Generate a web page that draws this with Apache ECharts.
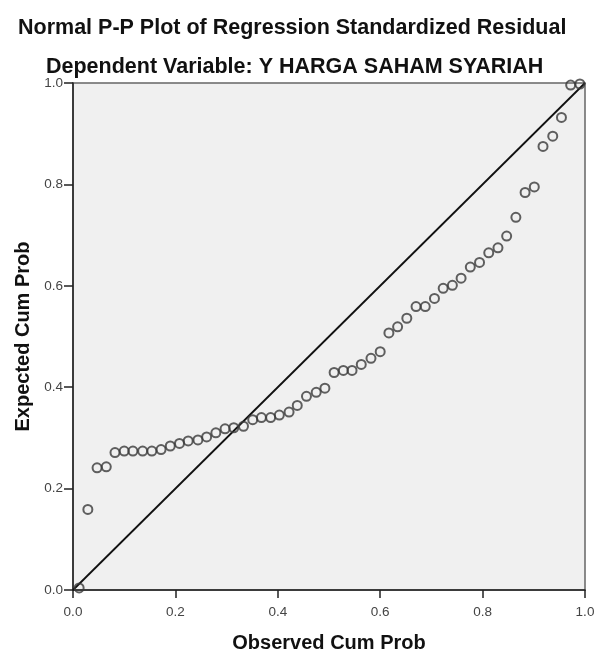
<!DOCTYPE html>
<html>
<head>
<meta charset="utf-8">
<script src="https://cdn.jsdelivr.net/npm/echarts@6/dist/echarts.min.js"></script>
<style>
  html, body { margin: 0; padding: 0; background: #fff; }
  #main { width: 599px; height: 658px; }
</style>
</head>
<body>
<div id="main"></div>
<script>
// observed cum prob (x) and expected cum prob (y)
var observed = [
  0.012, 0.029, 0.047, 0.065, 0.082, 0.100, 0.117, 0.136, 0.154, 0.172,
  0.190, 0.208, 0.225, 0.244, 0.261, 0.279, 0.297, 0.314, 0.333, 0.351,
  0.368, 0.386, 0.403, 0.422, 0.438, 0.456, 0.475, 0.492, 0.510, 0.528,
  0.545, 0.563, 0.582, 0.600, 0.617, 0.634, 0.652, 0.670, 0.688, 0.706,
  0.723, 0.741, 0.758, 0.776, 0.794, 0.812, 0.830, 0.847, 0.865, 0.883,
  0.901, 0.918, 0.937, 0.954, 0.972, 0.990
];
var expected = [
  0.004, 0.159, 0.241, 0.243, 0.271, 0.274, 0.274, 0.274, 0.274, 0.277,
  0.284, 0.289, 0.294, 0.296, 0.302, 0.310, 0.318, 0.320, 0.323, 0.336,
  0.340, 0.340, 0.345, 0.351, 0.364, 0.382, 0.390, 0.398, 0.429, 0.433,
  0.433, 0.445, 0.457, 0.470, 0.507, 0.519, 0.536, 0.559, 0.559, 0.575,
  0.595, 0.601, 0.615, 0.637, 0.646, 0.665, 0.675, 0.698, 0.735, 0.784,
  0.795, 0.875, 0.895, 0.932, 0.996, 0.998
];
var diagonal = [[0, 0], [1, 1]];
var tickLabels = ['0.0', '0.2', '0.4', '0.6', '0.8', '1.0'];

var points = observed.map(function (x, i) { return [x, expected[i]]; });

var font = 'Liberation Sans, Arial, sans-serif';

var myChart = echarts.init(document.getElementById('main'));

myChart.setOption({
  animation: false,
  title: [
    {
      text: 'Normal P-P Plot of Regression Standardized Residual',
      left: 13,
      top: 12,
      textStyle: { fontFamily: font, fontSize: 21.5, fontWeight: 'bold', color: '#111' }
    },
    {
      text: 'Dependent Variable: Y HARGA SAHAM SYARIAH',
      left: 41,
      top: 51,
      textStyle: { fontFamily: font, fontSize: 21.5, fontWeight: 'bold', color: '#111' }
    }
  ],
  grid: {
    left: 73,
    right: 14,
    top: 83,
    bottom: 64,
    show: true,
    backgroundColor: '#f0f0f0',
    borderColor: '#666',
    borderWidth: 1.5
  },
  xAxis: {
    type: 'value',
    min: 0,
    max: 1,
    interval: 0.2,
    name: 'Observed Cum Prob',
    nameLocation: 'middle',
    nameGap: 43,
    nameTextStyle: { fontFamily: font, fontSize: 20, fontWeight: 'bold', color: '#111' },
    axisLine: { show: true, lineStyle: { color: '#222', width: 1.5 } },
    axisTick: { show: true, length: 8, lineStyle: { color: '#222', width: 1.5 } },
    axisLabel: {
      fontFamily: font, fontSize: 13.5, color: '#444', margin: 15,
      formatter: function (v) { return tickLabels[Math.round(v * 5)]; }
    },
    splitLine: { show: false }
  },
  yAxis: {
    type: 'value',
    min: 0,
    max: 1,
    interval: 0.2,
    name: 'Expected Cum Prob',
    nameLocation: 'middle',
    nameGap: 37,
    nameTextStyle: { fontFamily: font, fontSize: 20, fontWeight: 'bold', color: '#111' },
    axisLine: { show: true, lineStyle: { color: '#222', width: 1.5 } },
    axisTick: { show: true, length: 9, lineStyle: { color: '#222', width: 1.5 } },
    axisLabel: {
      fontFamily: font, fontSize: 13.5, color: '#444', margin: 10,
      formatter: function (v) { return tickLabels[Math.round(v * 5)]; }
    },
    splitLine: { show: false }
  },
  series: [
    {
      type: 'line',
      data: diagonal,
      symbol: 'none',
      lineStyle: { color: '#111', width: 1.8 },
      silent: true,
      z: 2
    },
    {
      type: 'scatter',
      data: points,
      symbol: 'circle',
      symbolSize: 9,
      itemStyle: { color: 'rgba(0,0,0,0)', borderColor: '#3a3a3a', borderWidth: 2 },
      z: 3
    }
  ]
});
</script>
</body>
</html>
